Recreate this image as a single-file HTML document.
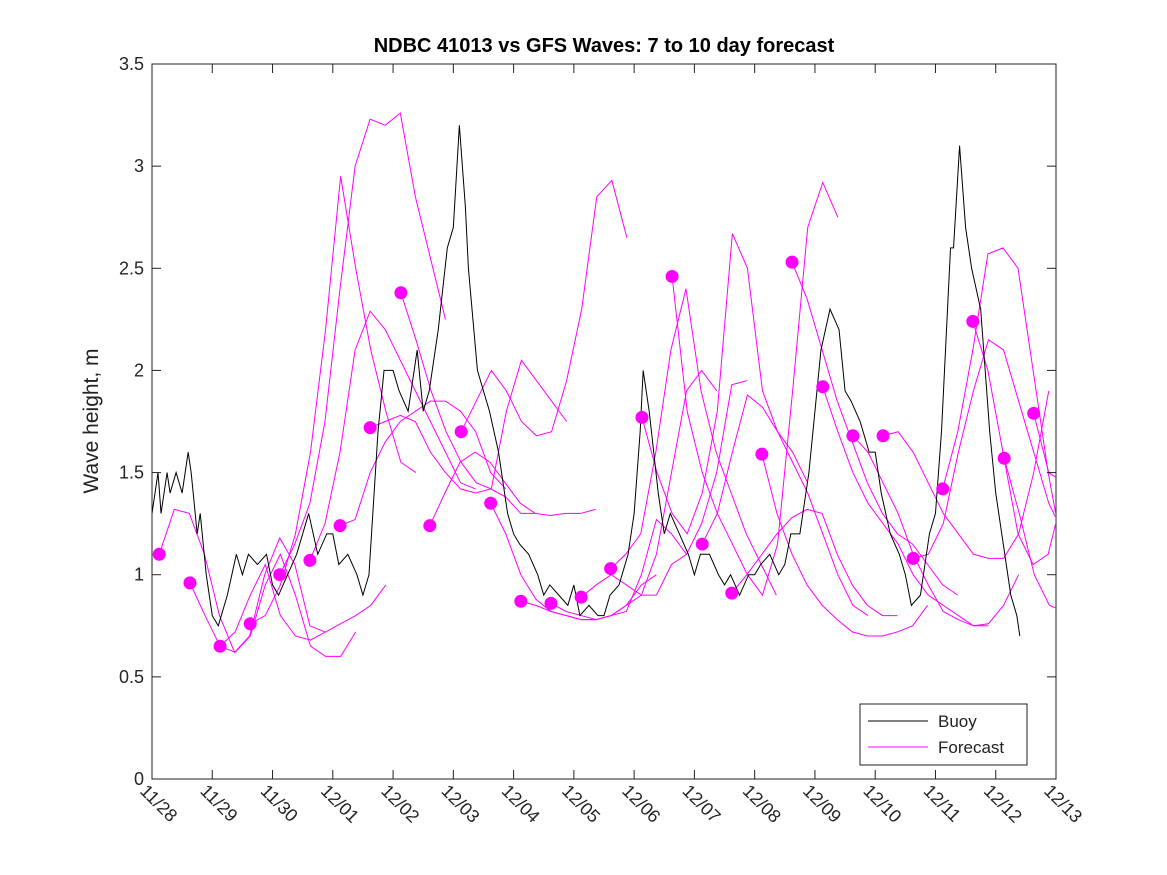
<!DOCTYPE html>
<html><head><meta charset="utf-8"><style>
body{margin:0;background:#fff}
svg{display:block;font-family:"Liberation Sans","DejaVu Sans",sans-serif}
</style></head><body>
<svg id="chart" width="1167" height="875">
<rect width="1167" height="875" fill="#fff"/>
<g id="plot"></g>
<text x="604" y="52" text-anchor="middle" font-size="20" font-weight="bold" fill="#000">NDBC 41013 vs GFS Waves: 7 to 10 day forecast</text>
<text transform="translate(98,421) rotate(-90)" text-anchor="middle" font-size="21" fill="#222">Wave height, m</text>
<g>
<rect x="860" y="704" width="167" height="61" fill="#fff" stroke="#222" stroke-width="1"/>
<line x1="868" y1="721" x2="928" y2="721" stroke="#000"/>
<text x="938" y="727" font-size="17" fill="#222">Buoy</text>
<line x1="868" y1="747" x2="928" y2="747" stroke="#f0f"/>
<text x="938" y="753" font-size="17" fill="#222">Forecast</text>
</g>
</svg>
<script>
const xLabels=["11/28","11/29","11/30","12/01","12/02","12/03","12/04","12/05","12/06","12/07","12/08","12/09","12/10","12/11","12/12","12/13"];
const yTicks=[0,0.5,1,1.5,2,2.5,3,3.5];
const buoyT=[0,0.1,0.15,0.25,0.3,0.4,0.5,0.6,0.65,0.75,0.8,0.9,1.0,1.1,1.25,1.4,1.5,1.6,1.75,1.9,2.0,2.1,2.25,2.4,2.5,2.6,2.75,2.9,3.0,3.1,3.25,3.4,3.5,3.6,3.75,3.85,4.0,4.1,4.25,4.4,4.5,4.6,4.75,4.9,5.0,5.1,5.2,5.25,5.4,5.5,5.6,5.75,5.9,6.0,6.1,6.25,6.4,6.5,6.6,6.75,6.9,7.0,7.1,7.25,7.4,7.5,7.6,7.75,7.9,8.0,8.1,8.15,8.25,8.4,8.5,8.6,8.75,8.9,9.0,9.1,9.25,9.4,9.5,9.6,9.75,9.9,10.0,10.1,10.25,10.4,10.5,10.6,10.75,10.9,11.0,11.1,11.25,11.4,11.5,11.6,11.75,11.9,12.0,12.1,12.25,12.4,12.5,12.6,12.75,12.9,13.0,13.1,13.15,13.25,13.3,13.4,13.5,13.6,13.75,13.9,14.0,14.1,14.25,14.35,14.4];
const buoyV=[1.3,1.5,1.3,1.5,1.4,1.5,1.4,1.6,1.5,1.2,1.3,1.0,0.8,0.75,0.9,1.1,1.0,1.1,1.05,1.1,0.95,0.9,1.0,1.1,1.2,1.3,1.1,1.2,1.2,1.05,1.1,1.0,0.9,1.0,1.7,2.0,2.0,1.9,1.8,2.1,1.8,1.9,2.2,2.6,2.7,3.2,2.8,2.5,2.0,1.9,1.8,1.6,1.3,1.2,1.15,1.1,1.0,0.9,0.95,0.9,0.85,0.95,0.8,0.85,0.8,0.8,0.9,0.95,1.1,1.3,1.7,2.0,1.8,1.4,1.2,1.3,1.2,1.1,1.0,1.1,1.1,1.0,0.95,1.0,0.9,1.0,1.0,1.05,1.1,1.0,1.05,1.2,1.2,1.5,1.8,2.1,2.3,2.2,1.9,1.85,1.75,1.6,1.6,1.4,1.2,1.1,1.0,0.85,0.9,1.2,1.3,1.7,2.0,2.6,2.6,3.1,2.7,2.5,2.3,1.7,1.4,1.2,0.9,0.8,0.7];
const dotT=[0.12,0.63,1.13,1.63,2.12,2.62,3.12,3.62,4.13,4.61,5.13,5.62,6.12,6.62,7.12,7.61,8.13,8.63,9.13,9.62,10.12,10.62,11.13,11.63,12.13,12.63,13.12,13.62,14.14,14.63];
const dotV=[1.10,0.96,0.65,0.76,1.00,1.07,1.24,1.72,2.38,1.24,1.70,1.35,0.87,0.86,0.89,1.03,1.77,2.46,1.15,0.91,1.59,2.53,1.92,1.68,1.68,1.08,1.42,2.24,1.57,1.79];
const fc1=[1.1,1.32,1.3,1.1,0.8,0.62,0.7,1.0,1.18,1.05,0.75,0.72];
const fc2=[0.96,0.8,0.65,0.62,0.7,0.95,1.1,0.9,0.65,0.6,0.6,0.72];
const fc3=[0.65,0.72,0.9,1.05,0.8,0.7,0.68,0.72,0.76,0.8,0.85,0.95];
const fc4=[0.76,0.8,0.95,1.2,1.6,2.2,2.95,2.5,2.1,1.8,1.55,1.5];
const fc5=[1.0,1.15,1.35,1.75,2.4,3.0,3.23,3.2,3.26,2.85,2.55,2.25];
const fc6=[1.07,1.25,1.6,2.1,2.29,2.2,2.05,1.9,1.75,1.6,1.45,1.42];
const fc7=[1.24,1.27,1.5,1.65,1.75,1.8,1.85,1.85,1.8,1.7,1.5,1.42];
const fc8=[1.72,1.75,1.78,1.75,1.6,1.5,1.42,1.4,1.42,1.38,1.3,1.3];
const fc9=[2.38,2.15,1.9,1.7,1.55,1.45,1.42,1.8,2.05,1.95,1.85,1.75];
const fc10=[1.24,1.4,1.55,1.6,1.55,1.45,1.35,1.3,1.29,1.3,1.3,1.32];
const fc11=[1.7,1.85,2.0,1.9,1.75,1.68,1.7,1.95,2.3,2.85,2.93,2.65];
const fc12=[1.35,1.2,1.0,0.88,0.82,0.8,0.78,0.78,0.8,0.85,0.95,1.0];
const fc13=[0.87,0.85,0.82,0.8,0.78,0.78,0.8,0.82,1.0,1.27,1.2,1.1];
const fc14=[0.86,0.82,0.8,0.78,0.8,0.85,0.9,1.1,1.5,1.9,2.0,1.9];
const fc15=[0.89,0.95,1.0,0.95,0.9,0.9,1.05,1.1,1.25,1.5,1.93,1.95];
const fc16=[1.03,1.1,1.2,1.6,2.1,2.4,1.9,1.6,1.4,1.2,1.05,0.9];
const fc17=[1.77,1.5,1.3,1.2,1.4,1.8,2.67,2.5,1.9,1.7,1.6,1.45];
const fc18=[2.46,1.8,1.5,1.3,1.15,1.0,0.9,1.15,1.9,2.7,2.92,2.75];
const fc19=[1.15,1.3,1.6,1.88,1.82,1.7,1.55,1.4,1.2,1.0,0.85,0.8];
const fc20=[0.91,1.0,1.1,1.2,1.28,1.32,1.3,1.1,0.95,0.85,0.8,0.8];
const fc21=[1.59,1.3,1.1,0.95,0.85,0.78,0.72,0.7,0.7,0.72,0.75,0.85];
const fc22=[2.53,2.35,2.1,1.85,1.65,1.45,1.3,1.2,1.15,1.05,0.95,0.9];
const fc23=[1.92,1.7,1.5,1.35,1.25,1.15,1.0,0.9,0.85,0.8,0.75,0.75];
const fc24=[1.68,1.6,1.45,1.3,1.1,0.95,0.82,0.78,0.75,0.76,0.85,1.0];
const fc25=[1.68,1.7,1.6,1.45,1.3,1.2,1.1,1.08,1.08,1.2,1.5,1.9];
const fc26=[1.08,1.1,1.25,1.6,1.9,2.15,2.1,1.85,1.6,1.35,1.2,1.2];
const fc27=[1.42,1.7,2.1,2.57,2.6,2.5,2.0,1.5,1.1,0.9,0.82,0.82];
const fc28=[2.24,2.0,1.6,1.2,1.05,1.1,1.4,1.9,2.3,2.52,2.45,1.4];
const fc29=[1.57,1.3,1.0,0.85,0.82,0.82,0.82,0.85,0.9,1.1];
const fc30=[1.79,1.5,1.45,1.4,0.9,0.6,0.46];
const forecasts=[fc1,fc2,fc3,fc4,fc5,fc6,fc7,fc8,fc9,fc10,fc11,fc12,fc13,fc14,fc15,fc16,fc17,fc18,fc19,fc20,fc21,fc22,fc23,fc24,fc25,fc26,fc27,fc28,fc29,fc30];

const NS="http://www.w3.org/2000/svg";
const L=152,R=1056,T=64,B=779,XMAX=15,YMAX=3.5;
const xs=d=>L+(R-L)*d/XMAX;
const ys=v=>B-(B-T)*v/YMAX;
const plot=document.getElementById('plot');
function mk(tag,attrs,parent){const e=document.createElementNS(NS,tag);for(const k in attrs)e.setAttribute(k,attrs[k]);(parent||plot).appendChild(e);return e;}

const defs=mk('defs',{});
const cp=mk('clipPath',{id:'clip'},defs);
mk('rect',{x:L,y:T,width:R-L,height:B-T},cp);

const frame=mk('rect',{x:L,y:T,width:R-L,height:B-T,fill:'#fff',stroke:'#222','stroke-width':1});



const series=mk('g',{'clip-path':'url(#clip)'});
forecasts.forEach((arr,i)=>{
  const t0=dotT[i];
  const pts=arr.map((v,j)=>xs(t0+j*0.25)+','+ys(v)).join(' ');
  const pl=mk('polyline',{points:pts,fill:'none',stroke:'#f0f','stroke-width':1},series);
  
  
});
const bpts=buoyT.map((t,i)=>xs(t)+','+ys(buoyV[i])).join(' ');
const bl=mk('polyline',{points:bpts,fill:'none',stroke:'#000','stroke-width':1},series);


dotT.forEach((t,i)=>{
  const c=mk('circle',{cx:xs(t),cy:ys(dotV[i]),r:6.5,fill:'#f0f'},series);
  
  
});

yTicks.forEach(v=>{
  const y=ys(v);
  mk('line',{x1:L,y1:y,x2:L+9,y2:y,stroke:'#222'});
  mk('line',{x1:R,y1:y,x2:R-9,y2:y,stroke:'#222'});
  const tx=mk('text',{x:L-8,y:y+6,'text-anchor':'end','font-size':18,fill:'#262626'});
  tx.textContent=String(v);
  
  
});
xLabels.forEach((lab,i)=>{
  const x=xs(i);
  mk('line',{x1:x,y1:B,x2:x,y2:B-9,stroke:'#222'});
  mk('line',{x1:x,y1:T,x2:x,y2:T+9,stroke:'#222'});
  const tx=mk('text',{transform:`translate(${x-13},${B+13}) rotate(45)`,'font-size':18,fill:'#262626'});
  tx.textContent=lab;
  
  
});
</script>
</body></html>
